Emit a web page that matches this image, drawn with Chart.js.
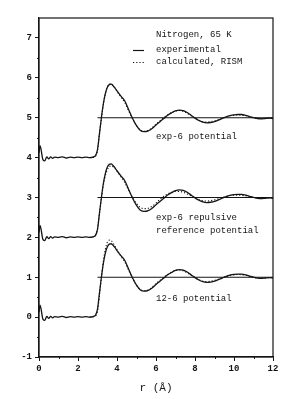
<!DOCTYPE html>
<html>
<head>
<meta charset="utf-8">
<script src="https://cdn.jsdelivr.net/npm/chart.js@4"></script>
<style>
  html, body { margin: 0; padding: 0; background: #fff; }
  #wrap { width: 308px; height: 399px; }
</style>
</head>
<body>
<div id="wrap"><canvas id="rdf"></canvas></div>
<script>
// r grid (Angstrom)
const rVals = [0, 0.05, 0.1, 0.2, 0.3, 0.4, 0.5, 0.6, 0.7, 0.8, 1.0, 1.2, 1.4, 1.6, 1.8, 2.0, 2.2, 2.4, 2.6, 2.8, 2.9,
  3.0, 3.1, 3.2, 3.3, 3.4, 3.5, 3.6, 3.7, 3.8, 3.9, 4.0, 4.2, 4.4, 4.6, 4.8, 5.0, 5.2, 5.4, 5.6, 5.8,
  6.0, 6.2, 6.4, 6.6, 6.8, 7.0, 7.2, 7.4, 7.6, 7.8, 8.0, 8.2, 8.4, 8.6, 8.8, 9.0, 9.2, 9.4, 9.6, 9.8,
  10.0, 10.2, 10.4, 10.6, 10.8, 11.0, 11.2, 11.4, 11.6, 11.8, 12.0];

// experimental g(r), same data in all three panels
const gExp = [0.12, 0.3, 0.22, -0.05, -0.08, 0.02, -0.03, 0.02, -0.02, 0.01, 0.0, 0.02, -0.01, 0.01, 0.0, 0.01, 0.0, 0.01, 0.0, 0.02, 0.05,
  0.2, 0.6, 1.0, 1.35, 1.6, 1.76, 1.83, 1.84, 1.8, 1.74, 1.67, 1.54, 1.42, 1.2, 0.98, 0.8, 0.68, 0.65, 0.67, 0.73,
  0.82, 0.9, 0.98, 1.06, 1.12, 1.17, 1.19, 1.18, 1.13, 1.06, 0.99, 0.93, 0.89, 0.87, 0.88, 0.9, 0.94, 0.98, 1.02, 1.05,
  1.07, 1.08, 1.08, 1.06, 1.03, 1.0, 0.98, 0.97, 0.98, 0.99, 0.98];

const N0 = 18; // calculated curves start at r = 2.6
const gExp6 = [0, 0.01, 0.04,
  0.18, 0.58, 0.98, 1.34, 1.6, 1.76, 1.84, 1.85, 1.81, 1.74, 1.66, 1.52, 1.38, 1.17, 0.97, 0.8, 0.69, 0.66, 0.68, 0.75,
  0.84, 0.92, 1.0, 1.07, 1.13, 1.17, 1.18, 1.16, 1.11, 1.05, 0.99, 0.94, 0.9, 0.89, 0.9, 0.92, 0.95, 0.99, 1.02, 1.05,
  1.06, 1.07, 1.06, 1.05, 1.02, 1.0, 0.98, 0.98, 0.98, 0.99, 1.0];
const gRepRef = [0, 0.02, 0.06,
  0.22, 0.6, 0.98, 1.3, 1.54, 1.69, 1.77, 1.79, 1.77, 1.72, 1.66, 1.52, 1.37, 1.18, 1.0, 0.85, 0.75, 0.72, 0.73, 0.78,
  0.86, 0.95, 1.03, 1.09, 1.13, 1.15, 1.15, 1.13, 1.09, 1.04, 0.99, 0.95, 0.92, 0.91, 0.92, 0.94, 0.97, 1.0, 1.03, 1.05,
  1.06, 1.06, 1.05, 1.04, 1.02, 1.0, 0.99, 0.98, 0.99, 0.99, 1.0];
const g126 = [0, 0.01, 0.03,
  0.15, 0.55, 1.0, 1.4, 1.7, 1.87, 1.93, 1.92, 1.86, 1.78, 1.69, 1.53, 1.38, 1.17, 0.97, 0.8, 0.69, 0.66, 0.68, 0.75,
  0.84, 0.92, 1.0, 1.07, 1.13, 1.17, 1.18, 1.16, 1.11, 1.05, 0.99, 0.94, 0.9, 0.89, 0.9, 0.92, 0.95, 0.99, 1.02, 1.05,
  1.06, 1.07, 1.06, 1.05, 1.02, 1.0, 0.98, 0.98, 0.98, 0.99, 1.0];

const offsets = [4, 2, 0];
const calcSets = [gExp6, gRepRef, g126];
const xTicks = [0, 2, 4, 6, 8, 10, 12];
const yTicks = [-1, 0, 1, 2, 3, 4, 5, 6, 7];

const INK = '#151515';
const FONT = '"Liberation Mono", "DejaVu Sans Mono", monospace';

function pts(xs, ys, off) {
  return ys.map((y, i) => ({ x: xs[i], y: y + off }));
}

const datasets = [];
offsets.forEach((off, k) => {
  datasets.push({ data: pts(rVals, gExp, off), borderColor: INK, borderWidth: 1.3 });
  datasets.push({ data: pts(rVals.slice(N0), calcSets[k], off), borderColor: INK, borderWidth: 1.1, borderDash: [1.2, 2] });
  datasets.push({ data: [{ x: 3, y: 1 + off }, { x: 12, y: 1 + off }], borderColor: INK, borderWidth: 1.1, cubicInterpolationMode: 'default', tension: 0 });
});

// frame, minor ticks, labels and legend
const decor = {
  id: 'decor',
  afterDraw(chart) {
    const { ctx, chartArea: a, scales: { x, y } } = chart;
    ctx.save();
    ctx.strokeStyle = INK;
    ctx.lineWidth = 1.2;
    ctx.strokeRect(a.left, a.top, a.right - a.left, a.bottom - a.top);
    ctx.lineWidth = 1;
    ctx.beginPath();
    for (let v = -0.5; v < 7.5; v += 1) {
      const py = Math.round(y.getPixelForValue(v)) + 0.5;
      ctx.moveTo(a.left - 2, py); ctx.lineTo(a.left, py);
    }
    for (let v = 1; v < 12; v += 2) {
      const px = Math.round(x.getPixelForValue(v)) + 0.5;
      ctx.moveTo(px, a.bottom); ctx.lineTo(px, a.bottom + 2);
    }
    ctx.stroke();

    ctx.fillStyle = INK;
    ctx.font = '9px ' + FONT;
    ctx.textBaseline = 'middle';
    ctx.fillText('Nitrogen, 65 K', 156, 35);
    ctx.fillText('experimental', 156, 50);
    ctx.fillText('calculated, RISM', 156, 62);
    ctx.fillText('exp-6 potential', 156, 137);
    ctx.fillText('exp-6 repulsive', 156, 218);
    ctx.fillText('reference potential', 156, 231);
    ctx.fillText('12-6 potential', 156, 299);

    ctx.lineWidth = 1.2;
    ctx.beginPath();
    ctx.moveTo(133, 50.5); ctx.lineTo(144, 50.5);
    ctx.stroke();
    ctx.setLineDash([1.2, 2]);
    ctx.beginPath();
    ctx.moveTo(133, 62.5); ctx.lineTo(144, 62.5);
    ctx.stroke();
    ctx.restore();
  }
};

new Chart(document.getElementById('rdf'), {
  type: 'line',
  data: { datasets: datasets },
  options: {
    responsive: true,
    maintainAspectRatio: false,
    animation: false,
    layout: { padding: { top: 18, right: 35, left: 0, bottom: 0 } },
    elements: { point: { radius: 0 }, line: { cubicInterpolationMode: 'monotone' } },
    plugins: { legend: { display: false }, tooltip: { enabled: false } },
    scales: {
      x: {
        type: 'linear', min: 0, max: 12,
        afterBuildTicks: s => { s.ticks = xTicks.map(v => ({ value: v })); },
        afterFit: s => { s.height = 42; },
        grid: { drawOnChartArea: false, color: INK, tickLength: 4 },
        border: { color: INK, width: 1.2 },
        ticks: { color: INK, font: { family: FONT, size: 9, weight: 'bold' }, padding: 2, maxRotation: 0 },
        title: { display: true, text: 'r (Å)', color: INK, font: { family: FONT, size: 11 }, padding: { top: 2 } }
      },
      y: {
        type: 'linear', min: -1, max: 7.5,
        afterBuildTicks: s => { s.ticks = yTicks.map(v => ({ value: v })); },
        afterFit: s => { s.width = 39; },
        grid: { drawOnChartArea: false, color: INK, tickLength: 4 },
        border: { color: INK, width: 1.2 },
        ticks: { color: INK, font: { family: FONT, size: 9, weight: 'bold' }, padding: 3 }
      }
    }
  },
  plugins: [decor]
});
</script>
</body>
</html>
